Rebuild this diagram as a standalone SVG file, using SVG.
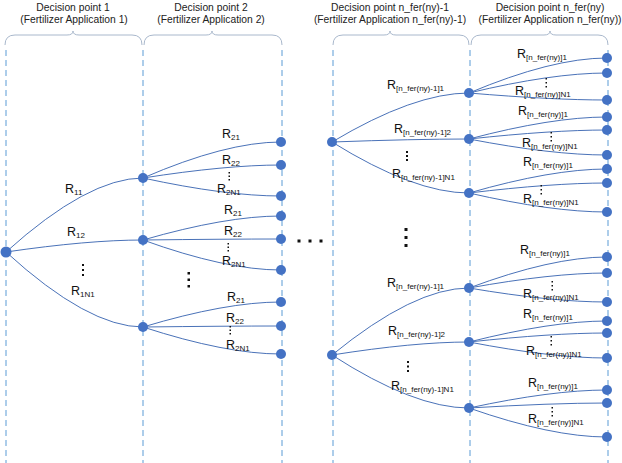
<svg xmlns="http://www.w3.org/2000/svg" width="622" height="463" viewBox="0 0 622 463">
<style>
.bg{fill:#ffffff}
.grid line{stroke:#5b9bd5;stroke-width:1;stroke-dasharray:6 4}
.brace{fill:none;stroke:#a9b8cc;stroke-width:1}
.hdr{font-family:"Liberation Sans",Arial,sans-serif;font-size:10.3px;fill:#222;text-anchor:middle}
.lbl{font-family:"Liberation Sans",Arial,sans-serif;font-size:12.5px;fill:#111}
.sub{font-size:8px}
.edges path{fill:none;stroke:#4a72b8;stroke-width:1}
.node circle{fill:#4472c4}
.dot{fill:#111}
</style>
<rect class="bg" x="0" y="0" width="622" height="463"/>
<g id="headers">
<text class="hdr" x="73" y="11">Decision point 1</text>
<text class="hdr" x="74" y="23">(Fertilizer Application 1)</text>
<text class="hdr" x="211" y="11">Decision point 2</text>
<text class="hdr" x="211" y="23">(Fertilizer Application 2)</text>
<text class="hdr" x="390" y="11">Decision point n_fer(ny)-1</text>
<text class="hdr" x="390" y="23">(Fertilizer Application n_fer(ny)-1)</text>
<text class="hdr" x="550" y="11">Decision point n_fer(ny)</text>
<text class="hdr" x="550" y="23">(Fertilizer Application n_fer(ny))</text>
</g>
<g id="braces">
<path class="brace" d="M5 45 Q5 35 15 35 L67 35 Q73 35 73 31 Q73 35 79 35 L132 35 Q142 35 142 45"/>
<path class="brace" d="M144 45 Q144 35 154 35 L206 35 Q212 35 212 31 Q212 35 218 35 L272 35 Q282 35 282 45"/>
<path class="brace" d="M333 45 Q333 35 343 35 L384 35 Q390 35 390 31 Q390 35 396 35 L459 35 Q469 35 469 45"/>
<path class="brace" d="M471 45 Q471 35 481 35 L544 35 Q550 35 550 31 Q550 35 556 35 L598 35 Q608 35 608 45"/>
</g>
<g id="gridlines" class="grid">
<line x1="6" y1="50" x2="6" y2="463"/>
<line x1="143" y1="50" x2="143" y2="463"/>
<line x1="282" y1="50" x2="282" y2="463"/>
<line x1="333" y1="50" x2="333" y2="463"/>
<line x1="470" y1="50" x2="470" y2="463"/>
<line x1="608" y1="50" x2="608" y2="463"/>
</g>
<g id="connectors" class="edges">
<path d="M6 252 Q88 178 143 178"/>
<path d="M6 252 Q88 240 143 240"/>
<path d="M6 252 Q88 327 143 327"/>
<path d="M143 178 Q226 142 281 142"/>
<path d="M143 178 Q226 165 281 165"/>
<path d="M143 178 Q226 196 281 196"/>
<path d="M143 240 Q226 216 281 216"/>
<path d="M143 240 Q226 239 281 239"/>
<path d="M143 240 Q226 270 281 270"/>
<path d="M143 327 Q226 302 281 302"/>
<path d="M143 327 Q226 326 281 326"/>
<path d="M143 327 Q226 354 281 354"/>
<path d="M332 142 Q414 93 469 93"/>
<path d="M332 142 Q414 139 469 139"/>
<path d="M332 142 Q414 193 469 193"/>
<path d="M332 355 Q414 288 469 288"/>
<path d="M332 355 Q414 342 469 342"/>
<path d="M332 355 Q414 408 469 408"/>
<path d="M469 93 Q552 58 607 58"/>
<path d="M469 93 Q552 73 607 73"/>
<path d="M469 93 Q552 100 607 100"/>
<path d="M469 139 Q552 117 607 117"/>
<path d="M469 139 Q552 130 607 130"/>
<path d="M469 139 Q552 155 607 155"/>
<path d="M469 193 Q552 169 607 169"/>
<path d="M469 193 Q552 183 607 183"/>
<path d="M469 193 Q552 212 607 212"/>
<path d="M469 288 Q552 257 607 257"/>
<path d="M469 288 Q552 273 607 273"/>
<path d="M469 288 Q552 302 607 302"/>
<path d="M469 342 Q552 321 607 321"/>
<path d="M469 342 Q552 333 607 333"/>
<path d="M469 342 Q552 358 607 358"/>
<path d="M469 408 Q552 390 607 390"/>
<path d="M469 408 Q552 403 607 403"/>
<path d="M469 408 Q552 437 607 437"/>
</g>
<g id="n0" class="node"><circle cx="6" cy="252" r="5.5"/></g>
<g id="n1a" class="node"><circle cx="143" cy="178" r="5"/></g>
<g id="n1b" class="node"><circle cx="143" cy="240" r="5"/></g>
<g id="n1c" class="node"><circle cx="143" cy="327" r="5"/></g>
<g id="n2a1" class="node"><circle cx="281" cy="142" r="5"/></g>
<g id="n2a2" class="node"><circle cx="281" cy="165" r="5"/></g>
<g id="n2a3" class="node"><circle cx="281" cy="196" r="5"/></g>
<g id="n2b1" class="node"><circle cx="281" cy="216" r="5"/></g>
<g id="n2b2" class="node"><circle cx="281" cy="239" r="5"/></g>
<g id="n2b3" class="node"><circle cx="281" cy="270" r="5"/></g>
<g id="n2c1" class="node"><circle cx="281" cy="302" r="5"/></g>
<g id="n2c2" class="node"><circle cx="281" cy="326" r="5"/></g>
<g id="n2c3" class="node"><circle cx="281" cy="354" r="5"/></g>
<g id="n3a" class="node"><circle cx="332" cy="142" r="5"/></g>
<g id="n3b" class="node"><circle cx="332" cy="355" r="5"/></g>
<g id="n4a" class="node"><circle cx="469" cy="93" r="5"/></g>
<g id="n4b" class="node"><circle cx="469" cy="139" r="5"/></g>
<g id="n4c" class="node"><circle cx="469" cy="193" r="5"/></g>
<g id="n4d" class="node"><circle cx="469" cy="288" r="5"/></g>
<g id="n4e" class="node"><circle cx="469" cy="342" r="5"/></g>
<g id="n4f" class="node"><circle cx="469" cy="408" r="5"/></g>
<g id="n5a1" class="node"><circle cx="607" cy="58" r="5"/></g>
<g id="n5a2" class="node"><circle cx="607" cy="73" r="5"/></g>
<g id="n5a3" class="node"><circle cx="607" cy="100" r="5"/></g>
<g id="n5b1" class="node"><circle cx="607" cy="117" r="5"/></g>
<g id="n5b2" class="node"><circle cx="607" cy="130" r="5"/></g>
<g id="n5b3" class="node"><circle cx="607" cy="155" r="5"/></g>
<g id="n5c1" class="node"><circle cx="607" cy="169" r="5"/></g>
<g id="n5c2" class="node"><circle cx="607" cy="183" r="5"/></g>
<g id="n5c3" class="node"><circle cx="607" cy="212" r="5"/></g>
<g id="n5d1" class="node"><circle cx="607" cy="257" r="5"/></g>
<g id="n5d2" class="node"><circle cx="607" cy="273" r="5"/></g>
<g id="n5d3" class="node"><circle cx="607" cy="302" r="5"/></g>
<g id="n5e1" class="node"><circle cx="607" cy="321" r="5"/></g>
<g id="n5e2" class="node"><circle cx="607" cy="333" r="5"/></g>
<g id="n5e3" class="node"><circle cx="607" cy="358" r="5"/></g>
<g id="n5f1" class="node"><circle cx="607" cy="390" r="5"/></g>
<g id="n5f2" class="node"><circle cx="607" cy="403" r="5"/></g>
<g id="n5f3" class="node"><circle cx="607" cy="437" r="5"/></g>
<g id="labels" class="lbl">
<text x="65" y="193">R<tspan class="sub" dy="2">11</tspan></text>
<text x="67" y="236">R<tspan class="sub" dy="2">12</tspan></text>
<text x="71" y="295">R<tspan class="sub" dy="2">1N1</tspan></text>
<text x="222" y="138">R<tspan class="sub" dy="2">21</tspan></text>
<text x="222" y="164">R<tspan class="sub" dy="2">22</tspan></text>
<text x="217" y="193">R<tspan class="sub" dy="2">2N1</tspan></text>
<text x="224" y="214">R<tspan class="sub" dy="2">21</tspan></text>
<text x="224" y="235">R<tspan class="sub" dy="2">22</tspan></text>
<text x="222" y="265">R<tspan class="sub" dy="2">2N1</tspan></text>
<text x="227" y="301">R<tspan class="sub" dy="2">21</tspan></text>
<text x="226" y="322">R<tspan class="sub" dy="2">22</tspan></text>
<text x="226" y="349">R<tspan class="sub" dy="2">2N1</tspan></text>
<text x="387" y="89">R<tspan class="sub" dy="2">[n_fer(ny)-1]1</tspan></text>
<text x="394" y="133">R<tspan class="sub" dy="2">[n_fer(ny)-1]2</tspan></text>
<text x="392" y="178">R<tspan class="sub" dy="2">[n_fer(ny)-1]N1</tspan></text>
<text x="387" y="287">R<tspan class="sub" dy="2">[n_fer(ny)-1]1</tspan></text>
<text x="388" y="335">R<tspan class="sub" dy="2">[n_fer(ny)-1]2</tspan></text>
<text x="391" y="390">R<tspan class="sub" dy="2">[n_fer(ny)-1]N1</tspan></text>
<text x="517" y="58">R<tspan class="sub" dy="2">[n_fer(ny)]1</tspan></text>
<text x="515" y="95">R<tspan class="sub" dy="2">[n_fer(ny)]N1</tspan></text>
<text x="518" y="115">R<tspan class="sub" dy="2">[n_fer(ny)]1</tspan></text>
<text x="522" y="147">R<tspan class="sub" dy="2">[n_fer(ny)]N1</tspan></text>
<text x="523" y="166">R<tspan class="sub" dy="2">[n_fer(ny)]1</tspan></text>
<text x="523" y="203">R<tspan class="sub" dy="2">[n_fer(ny)]N1</tspan></text>
<text x="520" y="254">R<tspan class="sub" dy="2">[n_fer(ny)]1</tspan></text>
<text x="523" y="298">R<tspan class="sub" dy="2">[n_fer(ny)]N1</tspan></text>
<text x="523" y="318">R<tspan class="sub" dy="2">[n_fer(ny)]1</tspan></text>
<text x="526" y="355">R<tspan class="sub" dy="2">[n_fer(ny)]N1</tspan></text>
<text x="528" y="387">R<tspan class="sub" dy="2">[n_fer(ny)]1</tspan></text>
<text x="528" y="423">R<tspan class="sub" dy="2">[n_fer(ny)]N1</tspan></text>
</g>
<g id="ellipses" class="dot">
<rect x="82" y="264" width="2" height="2"/><rect x="82" y="269" width="2" height="2"/><rect x="82" y="274" width="2" height="2"/>
<rect x="228.5" y="172" width="1.5" height="1.5"/><rect x="228.5" y="175.5" width="1.5" height="1.5"/><rect x="228.5" y="179" width="1.5" height="1.5"/>
<rect x="227.5" y="243" width="1.5" height="1.5"/><rect x="227.5" y="246.5" width="1.5" height="1.5"/><rect x="227.5" y="250" width="1.5" height="1.5"/>
<rect x="229.5" y="326" width="1.5" height="1.5"/><rect x="229.5" y="329.5" width="1.5" height="1.5"/><rect x="229.5" y="333" width="1.5" height="1.5"/>
<rect x="187.5" y="272" width="2.5" height="2.5"/><rect x="187.5" y="278.5" width="2.5" height="2.5"/><rect x="187.5" y="285" width="2.5" height="2.5"/>
<rect x="297.5" y="239.5" width="3" height="3"/><rect x="308.5" y="239.5" width="3" height="3"/><rect x="319.5" y="239.5" width="3" height="3"/>
<rect x="404.5" y="228" width="3" height="3"/><rect x="404.5" y="236" width="3" height="3"/><rect x="404.5" y="244" width="3" height="3"/>
<rect x="406" y="151" width="2" height="2"/><rect x="406" y="155" width="2" height="2"/><rect x="406" y="159" width="2" height="2"/>
<rect x="407" y="361" width="2" height="2"/><rect x="407" y="365.5" width="2" height="2"/><rect x="407" y="370" width="2" height="2"/>
<rect x="545.5" y="78" width="1.5" height="1.5"/><rect x="545.5" y="82" width="1.5" height="1.5"/><rect x="545.5" y="86" width="1.5" height="1.5"/>
<rect x="550.5" y="132" width="1.5" height="1.5"/><rect x="550.5" y="136" width="1.5" height="1.5"/><rect x="550.5" y="140" width="1.5" height="1.5"/>
<rect x="540.5" y="185" width="1.5" height="1.5"/><rect x="540.5" y="189" width="1.5" height="1.5"/><rect x="540.5" y="193" width="1.5" height="1.5"/>
<rect x="551.5" y="281" width="1.5" height="1.5"/><rect x="551.5" y="285" width="1.5" height="1.5"/><rect x="551.5" y="289" width="1.5" height="1.5"/>
<rect x="550.5" y="336" width="1.5" height="1.5"/><rect x="550.5" y="340" width="1.5" height="1.5"/><rect x="550.5" y="344" width="1.5" height="1.5"/>
<rect x="551.5" y="407" width="1.5" height="1.5"/><rect x="551.5" y="411" width="1.5" height="1.5"/><rect x="551.5" y="415" width="1.5" height="1.5"/>
</g>
</svg>
